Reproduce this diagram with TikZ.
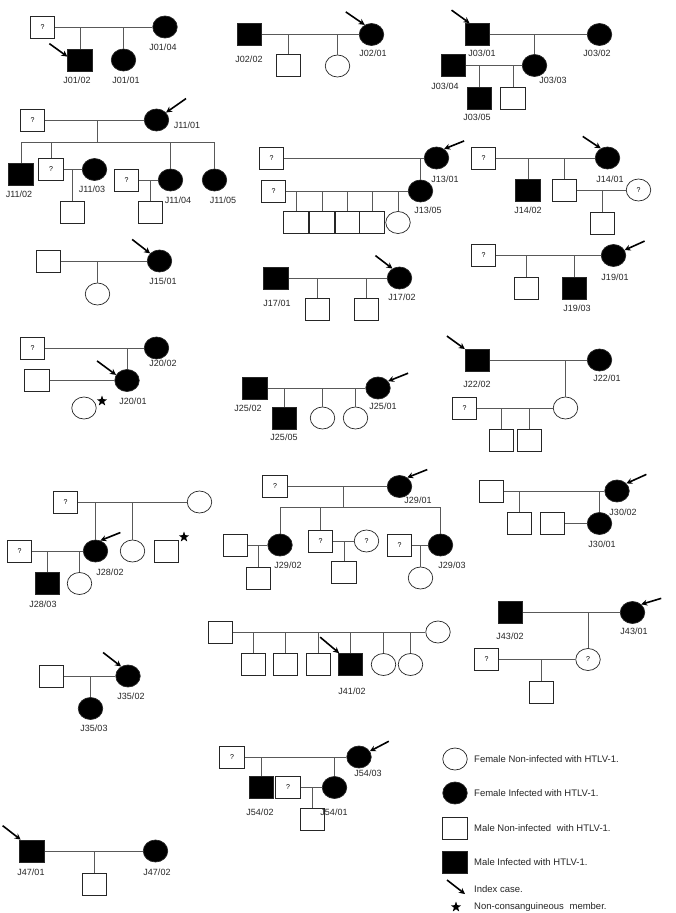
\documentclass[tikz,border=0pt]{standalone}
\usepackage{fontspec}
\setmainfont{Liberation Sans}
\usetikzlibrary{shapes.geometric,arrows.meta}
\newcommand\idxarrow[3]{\path (#1) ++(#2) coordinate (#3); \draw[idx] (#3) -- (#1);}
\begin{document}
\begin{tikzpicture}[x=1pt,y=-1pt,
 sym/.style={draw=black!85, line width=0.7pt, inner sep=0pt, minimum width=24.5pt, minimum height=22pt, font=\fontsize{7}{8}\selectfont},
 msq/.style={sym, rectangle},
 fsq/.style={sym, rectangle, fill=black},
 fc/.style={sym, ellipse},
 ffc/.style={sym, ellipse, fill=black},
 lbl/.style={inner sep=0pt, font=\fontsize{9}{10}\selectfont, text=black!85},
 leg/.style={inner sep=0pt, anchor=west, font=\fontsize{9.5}{11}\selectfont, text=black!85},
 ln/.style={draw=black!65, line width=0.8pt},
 idx/.style={line width=1.6pt, -{Stealth[length=6pt,width=6pt]}},
 starm/.style={star, star points=5, star point ratio=2.5, fill=black, draw=none, inner sep=0pt, minimum size=11pt}]
\fill[white] (0,0) rectangle (675,913);
\useasboundingbox (0,0) rectangle (675,913);

% J01
\node[msq] (a1) at (42.5,27) {?};
\node[ffc] (a2) at (165,27) {};
\node[fsq] (a3) at (80,60) {};
\node[ffc] (a4) at (123.5,60) {};
\draw[ln] (a1.east) -- (a2.west);
\draw[ln] (a3.north) -- (a3.north |- a1.east);
\draw[ln] (a4.north) -- (a4.north |- a1.east);
\node[lbl] (a2l) at (163,47) {J01/04};
\node[lbl] (a3l) at (77,80) {J01/02};
\node[lbl] (a4l) at (126,80) {J01/01};
\idxarrow{a3.165}{-18,-13}{a3x}

% J02
\node[fsq] (b1) at (249.5,34.5) {};
\node[ffc] (b2) at (371.5,34.5) {};
\node[msq] (b3) at (288.5,65.5) {};
\node[fc] (b4) at (337.5,66) {};
\draw[ln] (b1.east) -- (b2.west);
\draw[ln] (b3.north) -- (b3.north |- b1.east);
\draw[ln] (b4.north) -- (b4.north |- b1.east);
\node[lbl] (b1l) at (249,59) {J02/02};
\node[lbl] (b2l) at (373,53) {J02/01};
\idxarrow{b2.125}{-19,-13}{b2x}

% J03
\node[fsq] (c1) at (477.5,34.5) {};
\node[ffc] (c2) at (599.5,34.5) {};
\node[ffc] (c3) at (534.5,65.5) {};
\node[fsq] (c4) at (453.5,65.5) {};
\node[fsq] (c5) at (479.5,98) {};
\node[msq] (c6) at (513,98) {};
\draw[ln] (c1.east) -- (c2.west);
\draw[ln] (c3.north) -- (c3.north |- c1.east);
\draw[ln] (c4.east) -- (c3.west);
\draw[ln] (c5.north) -- (c5.north |- c4.east);
\draw[ln] (c6.north) -- (c6.north |- c4.east);
\node[lbl] (c1l) at (482,53) {J03/01};
\node[lbl] (c2l) at (597,53) {J03/02};
\node[lbl] (c3l) at (553,80) {J03/03};
\node[lbl] (c4l) at (445,86) {J03/04};
\node[lbl] (c5l) at (477,117) {J03/05};
\idxarrow{c1.125}{-18,-13}{c1x}

% J11
\node[msq] (d1) at (32.5,120) {?};
\node[ffc] (d2) at (156.5,120) {};
\coordinate (d1m) at (97,120);
\coordinate (d1b) at (97,142);
\node[fsq] (d3) at (21,174) {};
\node[msq] (d4) at (51,169.5) {?};
\node[ffc] (d5) at (94.5,169.5) {};
\node[msq] (d6) at (72.5,212) {};
\node[msq] (d7) at (126.5,180) {?};
\node[ffc] (d8) at (170.5,180) {};
\node[msq] (d9) at (150.5,212) {};
\node[ffc] (d10) at (214.5,180) {};
\draw[ln] (d1.east) -- (d2.west);
\draw[ln] (d1m) -- (d1b);
\draw[ln] (d3.north) |- (d10.north |- d1b) -- (d10.north);
\draw[ln] (d4.north) -- (d4.north |- d1b);
\draw[ln] (d8.north) -- (d8.north |- d1b);
\draw[ln] (d4.east) -- (d5.west);
\draw[ln] (d6.north) -- (d6.north |- d4.east);
\draw[ln] (d7.east) -- (d8.west);
\draw[ln] (d9.north) -- (d9.north |- d7.east);
\node[lbl] (d2l) at (187,125) {J11/01};
\node[lbl] (d3l) at (19,194) {J11/02};
\node[lbl] (d5l) at (92,189) {J11/03};
\node[lbl] (d8l) at (178,200) {J11/04};
\node[lbl] (d10l) at (223,200) {J11/05};
\idxarrow{d2.38}{20,-14}{d2x}

% J13
\node[msq] (e1) at (271.5,158) {?};
\node[ffc] (e2) at (436.5,158) {};
\node[ffc] (e3) at (420.5,191) {};
\node[msq] (e4) at (273.5,191) {?};
\node[msq] (e5) at (296,222.5) {};
\node[msq] (e6) at (322,222.5) {};
\node[msq] (e7) at (347.5,222.5) {};
\node[msq] (e8) at (372,222.5) {};
\node[fc] (e9) at (398,222.5) {};
\draw[ln] (e1.east) -- (e2.west);
\draw[ln] (e3.north) -- (e3.north |- e1.east);
\draw[ln] (e4.east) -- (e3.west);
\foreach \k in {e5,e6,e7,e8,e9} \draw[ln] (\k.north) -- (\k.north |- e4.east);
\node[lbl] (e2l) at (445,179) {J13/01};
\node[lbl] (e3l) at (428,210) {J13/05};
\idxarrow{e2.50}{20,-8}{e2x}

% J14
\node[msq] (f1) at (483.5,158) {?};
\node[ffc] (f2) at (607.5,158) {};
\node[fsq] (f3) at (528,190) {};
\node[msq] (f4) at (564.5,190) {};
\node[fc] (f5) at (638.5,190) {?};
\node[msq] (f6) at (602.5,223) {};
\draw[ln] (f1.east) -- (f2.west);
\draw[ln] (f3.north) -- (f3.north |- f1.east);
\draw[ln] (f4.north) -- (f4.north |- f1.east);
\draw[ln] (f4.east) -- (f5.west);
\draw[ln] (f6.north) -- (f6.north |- f4.east);
\node[lbl] (f2l) at (610,179) {J14/01};
\node[lbl] (f3l) at (528,210) {J14/02};
\idxarrow{f2.125}{-18,-12}{f2x}

% J15
\node[msq] (g1) at (48.5,261) {};
\node[ffc] (g2) at (159.5,261) {};
\node[fc] (g3) at (97.5,294) {};
\draw[ln] (g1.east) -- (g2.west);
\draw[ln] (g3.north) -- (g3.north |- g1.east);
\node[lbl] (g2l) at (163,281) {J15/01};
\idxarrow{g2.141}{-18,-14}{g2x}

% J17
\node[fsq] (h1) at (276,278) {};
\node[ffc] (h2) at (399.5,278) {};
\node[msq] (h3) at (317.5,309.5) {};
\node[msq] (h4) at (366.5,309.5) {};
\draw[ln] (h1.east) -- (h2.west);
\draw[ln] (h3.north) -- (h3.north |- h1.east);
\draw[ln] (h4.north) -- (h4.north |- h1.east);
\node[lbl] (h1l) at (277,303) {J17/01};
\node[lbl] (h2l) at (402,297) {J17/02};
\idxarrow{h2.127}{-17,-13}{h2x}

% J19
\node[msq] (i1) at (483.5,255.5) {?};
\node[ffc] (i2) at (613.5,255.5) {};
\node[msq] (i3) at (526.5,288) {};
\node[fsq] (i4) at (574.5,288) {};
\draw[ln] (i1.east) -- (i2.west);
\draw[ln] (i3.north) -- (i3.north |- i1.east);
\draw[ln] (i4.north) -- (i4.north |- i1.east);
\node[lbl] (i2l) at (615,277) {J19/01};
\node[lbl] (i4l) at (577,308) {J19/03};
\idxarrow{i2.26}{20,-9}{i2x}

% J20
\node[msq] (k1) at (32.5,348) {?};
\node[ffc] (k2) at (156.5,348) {};
\node[ffc] (k3) at (127,380.5) {};
\node[msq] (k4) at (37,380.5) {};
\node[fc] (k5) at (84,408) {};
\node[starm] (k6) at (102,401) {};
\draw[ln] (k1.east) -- (k2.west);
\draw[ln] (k3.north) -- (k3.north |- k1.east);
\draw[ln] (k4.east) -- (k3.west);
\node[lbl] (k2l) at (163,363) {J20/02};
\node[lbl] (k3l) at (133,401) {J20/01};
\idxarrow{k3.153}{-19,-14}{k3x}

% J25
\node[fsq] (l1) at (255,388) {};
\node[ffc] (l2) at (378,388) {};
\node[fsq] (l3) at (284.5,418) {};
\node[fc] (l4) at (322.5,418) {};
\node[fc] (l5) at (355.5,418) {};
\draw[ln] (l1.east) -- (l2.west);
\foreach \k in {l3,l4,l5} \draw[ln] (\k.north) -- (\k.north |- l1.east);
\node[lbl] (l1l) at (248,408) {J25/02};
\node[lbl] (l3l) at (284,437) {J25/05};
\node[lbl] (l2l) at (383,406) {J25/01};
\idxarrow{l2.34}{20,-8}{l2x}

% J22
\node[fsq] (m1) at (477.5,360) {};
\node[ffc] (m2) at (599.5,360) {};
\node[fc] (m3) at (565.5,408) {};
\node[msq] (m4) at (464.5,408) {?};
\node[msq] (m5) at (501.5,440) {};
\node[msq] (m6) at (529.5,440) {};
\draw[ln] (m1.east) -- (m2.west);
\draw[ln] (m3.north) -- (m3.north |- m1.east);
\draw[ln] (m4.east) -- (m3.west);
\draw[ln] (m5.north) -- (m5.north |- m4.east);
\draw[ln] (m6.north) -- (m6.north |- m4.east);
\node[lbl] (m1l) at (477,384) {J22/02};
\node[lbl] (m2l) at (607,378) {J22/01};
\idxarrow{m1.139}{-18,-13}{m1x}

% J28
\node[msq] (n1) at (65.5,502) {?};
\node[fc] (n2) at (199.5,502) {};
\node[ffc] (n3) at (95.5,551) {};
\node[fc] (n4) at (132.5,551) {};
\node[msq] (n5) at (166.5,551) {};
\node[starm] (n6) at (184,537) {};
\node[msq] (n7) at (19.5,551) {?};
\node[fsq] (n8) at (47.5,583.5) {};
\node[fc] (n9) at (79.5,583.5) {};
\draw[ln] (n1.east) -- (n2.west);
\draw[ln] (n3.north) -- (n3.north |- n1.east);
\draw[ln] (n4.north) -- (n4.north |- n1.east);
\draw[ln] (n7.east) -- (n3.west);
\draw[ln] (n8.north) -- (n8.north |- n7.east);
\draw[ln] (n9.north) -- (n9.north |- n7.east);
\node[lbl] (n3l) at (110,572) {J28/02};
\node[lbl] (n8l) at (43,604) {J28/03};
\idxarrow{n3.65}{20,-8}{n3x}

% J29
\node[msq] (o1) at (275,486.5) {?};
\node[ffc] (o2) at (399.5,486.5) {};
\coordinate (o1m) at (343,486.5);
\coordinate (o1b) at (343,507);
\node[ffc] (o3) at (280,545) {};
\node[msq] (o4) at (320.5,541) {?};
\node[ffc] (o5) at (440.5,545) {};
\node[msq] (o6) at (235.5,545) {};
\node[msq] (o7) at (258.5,578) {};
\node[fc] (o8) at (366.5,541) {?};
\node[msq] (o9) at (344,572) {};
\node[msq] (o10) at (399.5,545) {?};
\node[fc] (o11) at (420.5,578) {};
\draw[ln] (o1.east) -- (o2.west);
\draw[ln] (o1m) -- (o1b);
\draw[ln] (o3.north) |- (o5.north |- o1b) -- (o5.north);
\draw[ln] (o4.north) -- (o4.north |- o1b);
\draw[ln] (o6.east) -- (o3.west);
\draw[ln] (o7.north) -- (o7.north |- o6.east);
\draw[ln] (o4.east) -- (o8.west);
\draw[ln] (o9.north) -- (o9.north |- o4.east);
\draw[ln] (o10.east) -- (o5.west);
\draw[ln] (o11.north) -- (o11.north |- o10.east);
\node[lbl] (o2l) at (418,500) {J29/01};
\node[lbl] (o3l) at (288,565) {J29/02};
\node[lbl] (o5l) at (452,565) {J29/03};
\idxarrow{o2.49}{20,-8}{o2x}

% J30
\node[msq] (p1) at (491.5,491) {};
\node[ffc] (p2) at (617,491) {};
\node[msq] (p3) at (519.5,523.5) {};
\node[ffc] (p4) at (599.5,523.5) {};
\node[msq] (p5) at (552.5,523.5) {};
\draw[ln] (p1.east) -- (p2.west);
\draw[ln] (p3.north) -- (p3.north |- p1.east);
\draw[ln] (p4.north) -- (p4.north |- p1.east);
\draw[ln] (p5.east) -- (p4.west);
\node[lbl] (p2l) at (623,512) {J30/02};
\node[lbl] (p4l) at (602,544) {J30/01};
\idxarrow{p2.39}{20,-9}{p2x}

% J35
\node[msq] (q1) at (51.5,676) {};
\node[ffc] (q2) at (128,676) {};
\node[ffc] (q3) at (90.5,708.5) {};
\draw[ln] (q1.east) -- (q2.west);
\draw[ln] (q3.north) -- (q3.north |- q1.east);
\node[lbl] (q2l) at (131,696) {J35/02};
\node[lbl] (q3l) at (94,728) {J35/03};
\idxarrow{q2.126}{-18,-14}{q2x}

% J41
\node[msq] (r1) at (220.5,632) {};
\node[fc] (r2) at (438,632) {};
\node[msq] (r3) at (253.5,664.5) {};
\node[msq] (r4) at (285.5,664.5) {};
\node[msq] (r5) at (318.5,664.5) {};
\node[fsq] (r6) at (350.5,664.5) {};
\node[fc] (r7) at (383.5,664.5) {};
\node[fc] (r8) at (410.5,664.5) {};
\draw[ln] (r1.east) -- (r2.west);
\foreach \k in {r3,r4,r5,r6,r7,r8} \draw[ln] (\k.north) -- (\k.north |- r1.east);
\node[lbl] (r6l) at (352,691) {J41/02};
\idxarrow{r6.135}{-19,-16}{r6x}

% J43
\node[fsq] (s1) at (510.5,612.5) {};
\node[ffc] (s2) at (632.5,612.5) {};
\node[fc] (s3) at (588,659.5) {?};
\node[msq] (s4) at (486.5,659.5) {?};
\node[msq] (s5) at (541.5,692) {};
\draw[ln] (s1.east) -- (s2.west);
\draw[ln] (s3.north) -- (s3.north |- s1.east);
\draw[ln] (s4.east) -- (s3.west);
\draw[ln] (s5.north) -- (s5.north |- s4.east);
\node[lbl] (s1l) at (510,636) {J43/02};
\node[lbl] (s2l) at (634,631) {J43/01};
\idxarrow{s2.43}{20,-6}{s2x}

% J47
\node[fsq] (t1) at (32,851) {};
\node[ffc] (t2) at (155.5,851) {};
\node[msq] (t3) at (94.5,884) {};
\draw[ln] (t1.east) -- (t2.west);
\draw[ln] (t3.north) -- (t3.north |- t1.east);
\node[lbl] (t1l) at (31,872) {J47/01};
\node[lbl] (t2l) at (157,872) {J47/02};
\idxarrow{t1.135}{-18,-14}{t1x}

% J54
\node[msq] (u1) at (232,757) {?};
\node[ffc] (u2) at (359,757) {};
\node[fsq] (u3) at (261.5,787.5) {};
\node[ffc] (u4) at (334.5,787.5) {};
\node[msq] (u5) at (288,787.5) {?};
\node[msq] (u6) at (312.5,819) {};
\draw[ln] (u1.east) -- (u2.west);
\draw[ln] (u3.north) -- (u3.north |- u1.east);
\draw[ln] (u4.north) -- (u4.north |- u1.east);
\draw[ln] (u5.east) -- (u4.west);
\draw[ln] (u6.north) -- (u6.north |- u5.east);
\node[lbl] (u2l) at (368,773) {J54/03};
\node[lbl] (u3l) at (260,812) {J54/02};
\node[lbl] (u4l) at (334,812) {J54/01};
\idxarrow{u2.28}{19,-10}{u2x}

% Legend
\node[fc] (v1) at (455,759) {};
\node[ffc] (v2) at (455,793) {};
\node[msq] (v3) at (455,828) {};
\node[fsq] (v4) at (455,862) {};
\coordinate (v5a) at (447,880);
\coordinate (v5b) at (465,894);
\draw[idx] (v5a) -- (v5b);
\node[starm] (v6) at (456,907) {};
\node[leg] (w1) at (474,759) {Female Non-infected with HTLV-1.};
\node[leg] (w2) at (474,793) {Female Infected with HTLV-1.};
\node[leg] (w3) at (474,828) {Male Non-infected\hspace{3pt} with HTLV-1.};
\node[leg] (w4) at (474,862) {Male Infected with HTLV-1.};
\node[leg] (w5) at (474,889) {Index case.};
\node[leg] (w6) at (474,907) {Non-consanguineous\hspace{3pt} member.};
\end{tikzpicture}
\end{document}
